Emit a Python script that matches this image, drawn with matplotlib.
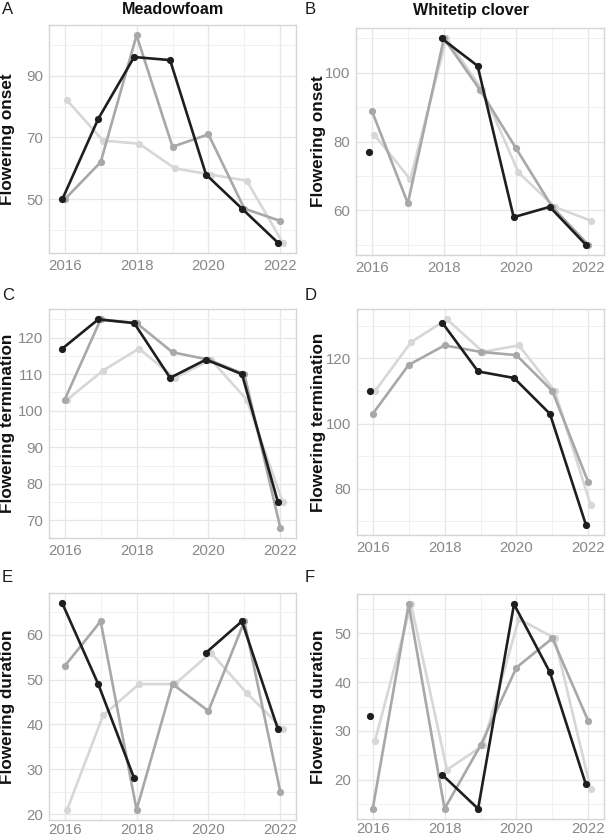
import matplotlib
matplotlib.use("Agg")
import matplotlib.pyplot as plt
import numpy as np

plt.rcParams['font.family'] = ['Liberation Sans', 'DejaVu Sans']

years = [2016, 2017, 2018, 2019, 2020, 2021, 2022]
nan = np.nan

# Meadowfoam
mf_onset_black = [50, 76, 96, 95, 58, 47, 36]
mf_onset_mid = [50, 62, 103, 67, 71, 47, 43]
mf_onset_light = [82, 69, 68, 60, 58, 56, 36]
mf_term_black = [117, 125, 124, 109, 114, 110, 75]
mf_term_mid = [103, 125, 124, 116, 114, 110, 68]
mf_term_light = [103, 111, 117, 109, 114, 103, 75]
mf_dur_black = [67, 49, 28, nan, 56, 63, 39]
mf_dur_mid = [53, 63, 21, 49, 43, 63, 25]
mf_dur_light = [21, 42, 49, 49, 56, 47, 39]

# Whitetip clover
wc_onset_black = [77, nan, 110, 102, 58, 61, 50]
wc_onset_mid = [89, 62, 110, 95, 78, 61, 50]
wc_onset_light = [82, 69, 110, 95, 71, 61, 57]
wc_term_black = [110, nan, 131, 116, 114, 103, 69]
wc_term_mid = [103, 118, 124, 122, 121, 110, 82]
wc_term_light = [110, 125, 132, 122, 124, 110, 75]
wc_dur_black = [33, nan, 21, 14, 56, 42, 19]
wc_dur_mid = [14, 56, 14, 27, 43, 49, 32]
wc_dur_light = [28, 56, 22, 27, 53, 49, 18]

titles = ["Meadowfoam", "Whitetip clover"]
ylabels = ["Flowering onset", "Flowering termination", "Flowering duration"]
panel_letters = ["A", "B", "C", "D", "E", "F"]
xticks = [2016, 2018, 2020, 2022]

panels = [
    (mf_onset_black, mf_onset_mid, mf_onset_light, [50, 70, 90], [40, 60, 80, 100]),
    (wc_onset_black, wc_onset_mid, wc_onset_light, [60, 80, 100], [50, 70, 90, 110]),
    (mf_term_black, mf_term_mid, mf_term_light, [70, 80, 90, 100, 110, 120], [75, 85, 95, 105, 115, 125]),
    (wc_term_black, wc_term_mid, wc_term_light, [80, 100, 120], [70, 90, 110, 130]),
    (mf_dur_black, mf_dur_mid, mf_dur_light, [20, 30, 40, 50, 60], [25, 35, 45, 55, 65]),
    (wc_dur_black, wc_dur_mid, wc_dur_light, [20, 30, 40, 50], [15, 25, 35, 45, 55]),
]

colors = ["#1e1e1e", "#a8a8a8", "#d7d7d7"]
offsets = [-0.067, 0.0, 0.067]
draw_order = [2, 1, 0]

W, H = 606, 839
fig = plt.figure(figsize=(W / 100, H / 100), dpi=100)

# axes rectangles in pixels: left, top, right, bottom
rects = [
    (49, 25, 296, 253), (356, 28, 604, 255),
    (49, 309, 296, 538), (357, 309, 604, 535),
    (49, 593, 296, 820), (357, 594, 604, 819),
]
letter_pos = [(2, 10), (305, 10), (2, 296), (305, 296), (2, 577), (305, 577)]
ylabel_x = [8, 318]
title_pos = [(173, 10), (471, 10)]

for i, (rect, pdata) in enumerate(zip(rects, panels)):
    l, t, r, b = rect
    ax = fig.add_axes([l / W, 1 - b / H, (r - l) / W, (b - t) / H])
    series = pdata[:3]
    ymaj, ymin = pdata[3], pdata[4]
    for k in draw_order:
        xs = np.array(years) + offsets[k]
        ys = np.array(series[k], dtype=float)
        ax.plot(xs, ys, color=colors[k], lw=1.9, marker='o', ms=5.2,
                markeredgewidth=0, zorder=3 + (2 - k), solid_capstyle='round')
    allv = np.concatenate([np.array(s, dtype=float) for s in series])
    lo, hi = np.nanmin(allv), np.nanmax(allv)
    pad = (hi - lo) * 0.05
    ax.set_ylim(lo - pad, hi + pad)
    ax.set_xlim(2016 - 0.067 - 0.37, 2022 + 0.067 + 0.37)
    ax.set_xticks(xticks)
    ax.set_xticks([2017, 2019, 2021], minor=True)
    ax.set_yticks(ymaj)
    ax.set_yticks(ymin, minor=True)
    ax.grid(True, which='major', color='#e6e6e6', lw=0.9, zorder=0)
    ax.grid(True, which='minor', color='#efefef', lw=0.6, zorder=0)
    ax.set_axisbelow(True)
    ax.tick_params(which='both', length=0, labelsize=10.8, colors='#888888', pad=4)
    if i >= 4:
        ax.tick_params(axis='x', pad=2.5)
    for s in ax.spines.values():
        s.set_color('#d6d6d6')
        s.set_linewidth(1.0)
    yc = (t + b) / 2
    fig.text(ylabel_x[i % 2] / W, 1 - yc / H, ylabels[i // 2], rotation=90,
             fontsize=12.3, fontweight='bold', color='#111111', ha='center', va='center')
    if i < 2:
        tx, ty = title_pos[i]
        fig.text(tx / W, 1 - ty / H, titles[i], fontsize=11.6, fontweight='bold',
                 color='#111111', ha='center', va='center')
    lx, ly = letter_pos[i]
    fig.text(lx / W, 1 - ly / H, panel_letters[i], fontsize=12, color='#1a1a1a',
             ha='left', va='center')

fig.savefig("out.png", dpi=100, facecolor='white')
